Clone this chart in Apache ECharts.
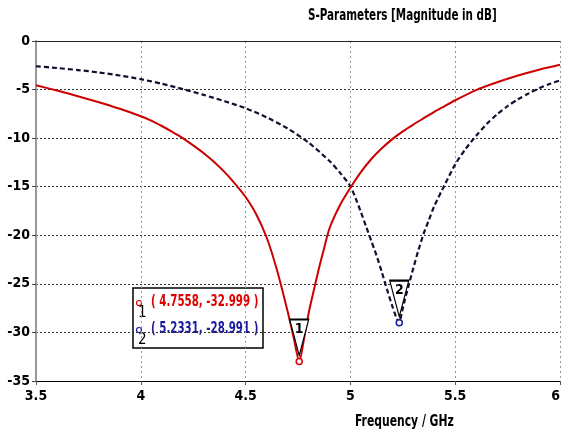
<!DOCTYPE html>
<html>
<head>
<meta charset="utf-8">
<script src="https://cdn.jsdelivr.net/npm/echarts@6/dist/echarts.min.js"></script>
<style>
html, body { margin: 0; padding: 0; background: #fff; }
#chart { width: 562px; height: 434px; }
</style>
</head>
<body>
<div id="chart"></div>
<script>
// S11 curve (red, solid)
var freqS11 = [3.5,3.6,3.7,3.8,3.9,4.0,4.05,4.1,4.15,4.2,4.25,4.3,4.35,4.4,4.45,4.5,4.55,4.6,4.65,4.7,4.73,4.7558,4.78,4.8,4.825,4.85,4.875,4.9,4.95,5.0,5.05,5.1,5.15,5.2,5.25,5.3,5.35,5.4,5.45,5.5,5.6,5.7,5.8,5.9,6.0];
var dbS11 = [-4.56,-5.1,-5.68,-6.3,-6.98,-7.75,-8.2,-8.75,-9.35,-10.0,-10.75,-11.55,-12.45,-13.5,-14.7,-16.06,-17.8,-20.2,-23.6,-27.8,-30.6,-32.999,-30.5,-28.1,-25.7,-23.4,-21.3,-19.3,-16.9,-15.1,-13.5,-12.15,-11.05,-10.1,-9.3,-8.6,-7.95,-7.3,-6.7,-6.1,-5.05,-4.25,-3.55,-2.95,-2.45];

// S22 curve (black, dashed)
var freqS22 = [3.5,3.6,3.7,3.8,3.9,4.0,4.1,4.2,4.3,4.4,4.5,4.6,4.7,4.8,4.9,4.95,5.0,5.025,5.05,5.075,5.1,5.125,5.15,5.175,5.2,5.22,5.2331,5.245,5.26,5.28,5.3,5.325,5.35,5.375,5.4,5.45,5.5,5.55,5.6,5.65,5.7,5.75,5.8,5.85,5.9,5.95,6.0];
var dbS22 = [-2.6,-2.78,-2.99,-3.24,-3.55,-3.93,-4.4,-4.95,-5.55,-6.2,-6.92,-7.85,-9.0,-10.45,-12.35,-13.55,-14.95,-16.2,-17.6,-19.1,-20.6,-22.1,-23.8,-25.6,-27.3,-28.5,-28.991,-28.0,-26.6,-25.0,-23.4,-21.5,-19.8,-18.4,-17.0,-14.8,-12.7,-11.1,-9.75,-8.55,-7.55,-6.7,-6.0,-5.4,-4.88,-4.43,-4.05];

// markers
var markerNames = ['1', '2'];
var markerFreq = [4.7558, 5.2331];
var markerDb = [-32.999, -28.991];
var markerColors = ['#e00000', '#1a1aa0'];

var xTicks = [3.5, 4, 4.5, 5, 5.5, 6];
var yTicks = [0, -5, -10, -15, -20, -25, -30, -35];

var labelFont = '"DejaVu Sans Condensed", "DejaVu Sans", sans-serif';

function pairs(xs, ys) {
	var out = [];
	for (var i = 0; i < xs.length; i++) {
		out.push([xs[i], ys[i]]);
	}
	return out;
}

// marker triangle with number + small circle on the minimum
function markerPoints(i, color) {
	return {
		silent: true,
		animation: false,
		data: [
			{
				coord: [markerFreq[i], markerDb[i]],
				symbol: 'path://M0,0 L20,0 L10,38 Z',
				symbolSize: [19, 36],
				symbolOffset: [0, -24],
				itemStyle: { color: '#fff', borderColor: '#000', borderWidth: 1.5 },
				label: {
					show: true,
					position: 'inside',
					offset: [0, -8],
					formatter: markerNames[i],
					color: '#000',
					fontSize: 14,
					fontWeight: 'bold',
					fontFamily: labelFont
				}
			},
			{
				coord: [markerFreq[i], markerDb[i]],
				symbol: 'circle',
				symbolSize: 6,
				itemStyle: { color: '#fff', borderColor: color, borderWidth: 1.5 },
				label: { show: false }
			}
		]
	};
}

function legendBox() {
	var children = [
		{ type: 'rect', shape: { x: 0, y: 0, width: 130, height: 60 },
		  style: { fill: '#fff', stroke: '#000', lineWidth: 1.5 } }
	];
	for (var i = 0; i < markerNames.length; i++) {
		var y0 = 15 + i * 27;
		children.push({ type: 'circle', shape: { cx: 6, cy: y0, r: 2.5 },
			style: { fill: '#fff', stroke: markerColors[i], lineWidth: 1.2 } });
		children.push({ type: 'text', x: 5, y: y0 + 3,
			style: { text: markerNames[i], fill: '#000', font: '15px ' + labelFont } });
		children.push({ type: 'text', x: 18, y: y0 - 8, scaleX: 0.76,
			style: {
				text: '( ' + markerFreq[i].toFixed(4) + ', ' + markerDb[i].toFixed(3) + ' )',
				fill: markerColors[i],
				font: 'bold 15px ' + labelFont
			} });
	}
	return { type: 'group', x: 133, y: 288, z: 100, children: children };
}

var myChart = echarts.init(document.getElementById('chart'));
var option = {
	animation: false,
	backgroundColor: '#fff',
	grid: { left: 36, right: 2, top: 41, bottom: 53, outerBoundsMode: 'none', containLabel: false },
	xAxis: [{
		type: 'value',
		min: xTicks[0],
		max: xTicks[xTicks.length - 1],
		interval: 0.5,
		axisLine: { show: true, onZero: false, lineStyle: { color: '#000', width: 1 } },
		axisTick: { show: true, length: 4, lineStyle: { color: '#555' } },
		axisLabel: {
			margin: 8, color: '#000', fontSize: 14, fontWeight: 'bold', fontFamily: labelFont,
			alignMaxLabel: 'right',
			formatter: function (v) { return String(v); }
		},
		splitLine: { show: true, lineStyle: { color: '#999', type: [2, 3], width: 1 } }
	}, {
		// top frame line
		type: 'value', position: 'top',
		min: xTicks[0], max: xTicks[xTicks.length - 1], interval: 0.5,
		axisLine: { show: true, onZero: false, lineStyle: { color: '#222', width: 1 } },
		axisTick: { show: false }, axisLabel: { show: false }, splitLine: { show: false }
	}],
	yAxis: {
		type: 'value',
		min: yTicks[yTicks.length - 1],
		max: yTicks[0],
		interval: 5,
		axisLine: { show: true, onZero: false, lineStyle: { color: '#999', width: 2 } },
		axisTick: { show: true, length: 4, lineStyle: { color: '#444' } },
		axisLabel: { margin: 6, color: '#000', fontSize: 14, fontWeight: 'bold', fontFamily: labelFont },
		splitLine: { show: true, lineStyle: { color: '#333', type: [2, 2], width: 1 } }
	},
	series: [{
		name: 'S2,2',
		type: 'line',
		data: pairs(freqS22, dbS22),
		showSymbol: false,
		smooth: 0.25,
		lineStyle: { color: '#101030', width: 2.2, type: [5, 3] },
		markPoint: markerPoints(1, markerColors[1]),
		z: 3
	}, {
		name: 'S1,1',
		type: 'line',
		data: pairs(freqS11, dbS11),
		showSymbol: false,
		smooth: 0.25,
		lineStyle: { color: '#cc0000', width: 2 },
		markPoint: markerPoints(0, markerColors[0]),
		z: 4
	}],
	graphic: [
		// title and axis name, drawn narrow like the original
		{ type: 'text', x: 308, y: 9, z: 100, scaleX: 0.77,
		  style: { text: 'S-Parameters [Magnitude in dB]', fill: '#000', font: 'bold 15px ' + labelFont } },
		{ type: 'text', x: 355, y: 415, z: 100, scaleX: 0.8,
		  style: { text: 'Frequency / GHz', fill: '#000', font: 'bold 15px ' + labelFont } },
		legendBox()
	]
};
myChart.setOption(option);
</script>
</body>
</html>
